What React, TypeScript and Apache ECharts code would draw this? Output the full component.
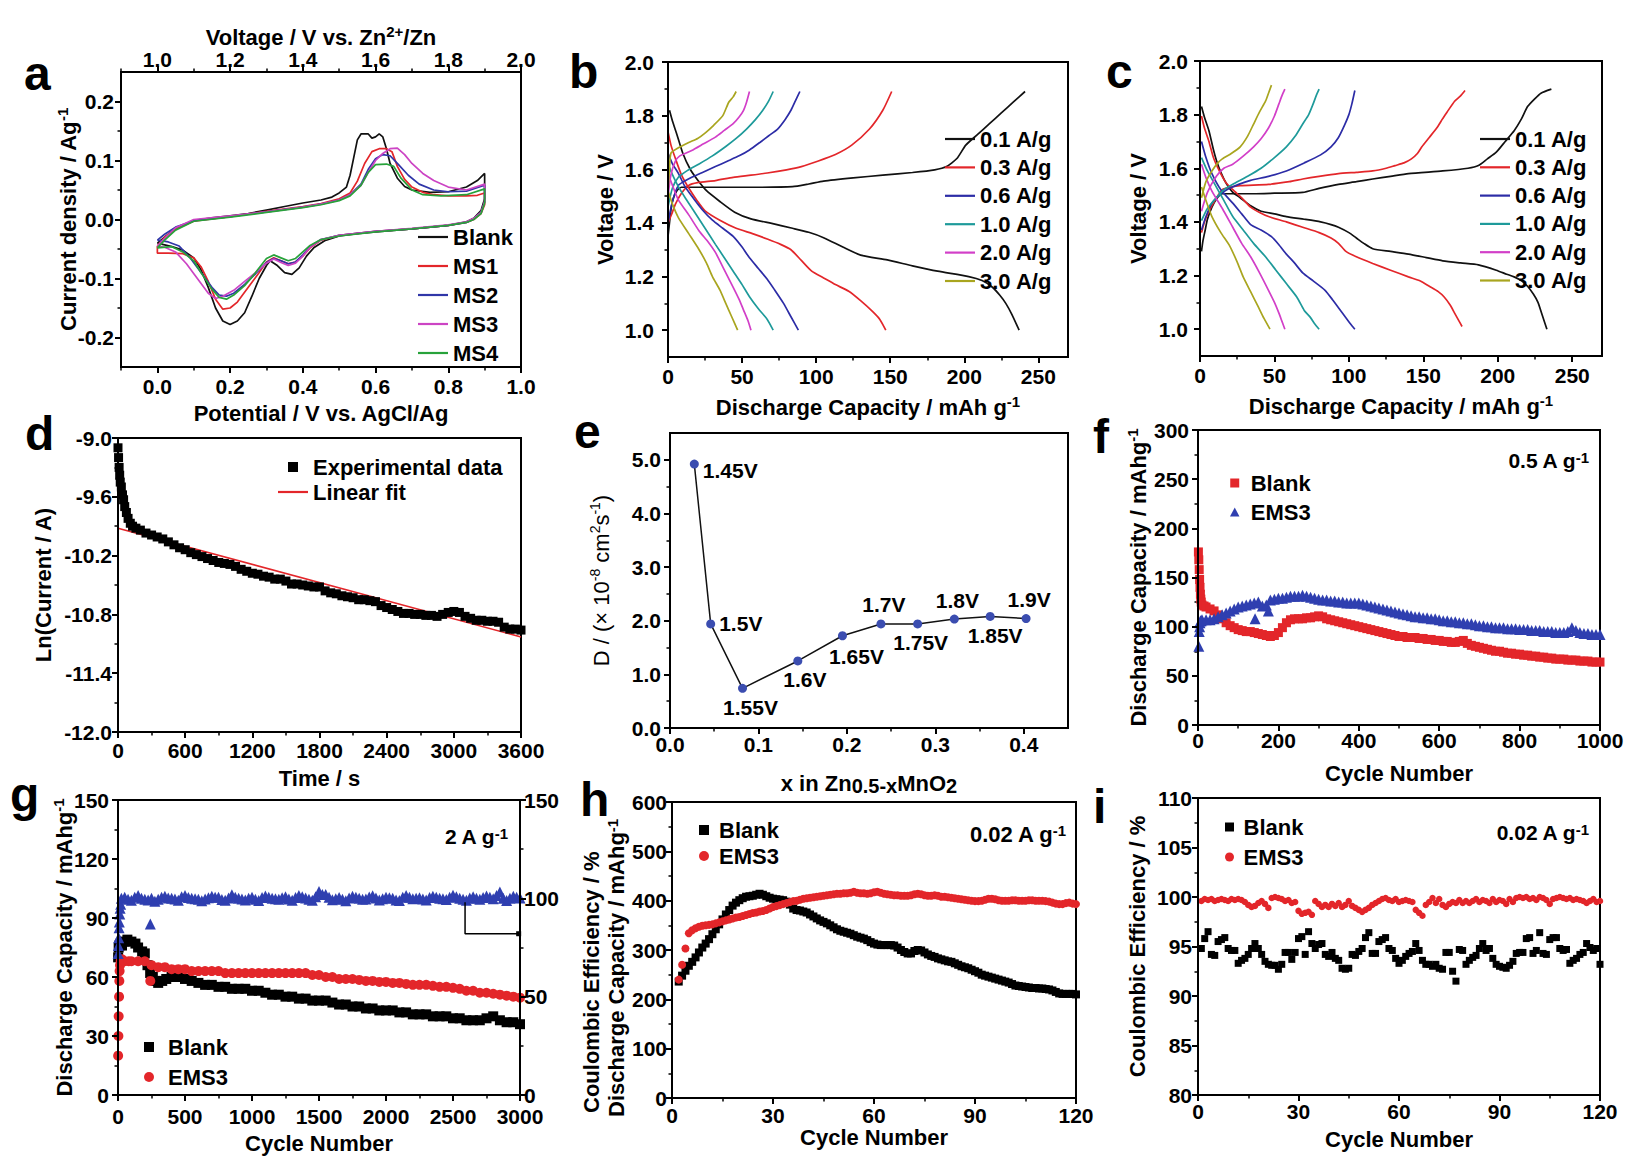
import React, { useEffect, useRef } from "react";
import * as echarts from "echarts";

const FONT = "'Liberation Sans', Arial, Helvetica, sans-serif";

// ---------- panel a : CV curves ----------
const aTicksX = [0, 0.2, 0.4, 0.6, 0.8, 1.0];
const aMinorX = [-0.1, 0.1, 0.3, 0.5, 0.7, 0.9];
const aTicksY = [-0.2, -0.1, 0, 0.1, 0.2];
const aMinorY = [-0.15, -0.05, 0.05, 0.15];
const aNames = ["Blank", "MS1", "MS2", "MS3", "MS4"];
const aColors = ["#111111", "#e3262a", "#3036a8", "#cc44c4", "#27a23a"];
const cvBlank = [[0.0,-0.040],[0.02,-0.030],[0.05,-0.015],[0.10,-0.002],[0.15,0.003],[0.20,0.006],[0.25,0.010],[0.30,0.016],[0.35,0.022],[0.40,0.028],[0.45,0.033],[0.48,0.038],[0.50,0.045],[0.52,0.055],[0.53,0.075],[0.54,0.105],[0.55,0.135],[0.56,0.145],[0.58,0.145],[0.59,0.138],[0.60,0.140],[0.61,0.145],[0.62,0.140],[0.63,0.120],[0.64,0.095],[0.66,0.070],[0.68,0.056],[0.70,0.050],[0.75,0.046],[0.80,0.047],[0.85,0.055],[0.88,0.066],[0.90,0.078],[0.90,0.035],[0.89,0.015],[0.87,0.002],[0.85,-0.004],[0.80,-0.010],[0.70,-0.016],[0.60,-0.021],[0.55,-0.024],[0.50,-0.028],[0.46,-0.036],[0.43,-0.048],[0.41,-0.062],[0.39,-0.082],[0.37,-0.093],[0.35,-0.090],[0.33,-0.078],[0.31,-0.070],[0.30,-0.078],[0.28,-0.100],[0.26,-0.130],[0.24,-0.158],[0.22,-0.172],[0.20,-0.178],[0.18,-0.172],[0.16,-0.150],[0.14,-0.115],[0.12,-0.085],[0.10,-0.065],[0.07,-0.052],[0.04,-0.046],[0.0,-0.040]];
const cvMS1 = [[0.0,-0.045],[0.02,-0.030],[0.05,-0.016],[0.10,-0.003],[0.20,0.005],[0.30,0.014],[0.40,0.022],[0.45,0.027],[0.50,0.035],[0.53,0.045],[0.55,0.065],[0.57,0.095],[0.59,0.115],[0.61,0.120],[0.63,0.120],[0.645,0.115],[0.66,0.090],[0.68,0.068],[0.70,0.055],[0.73,0.046],[0.76,0.042],[0.80,0.040],[0.85,0.040],[0.88,0.041],[0.90,0.045],[0.90,0.025],[0.89,0.010],[0.87,0.000],[0.85,-0.005],[0.80,-0.010],[0.70,-0.016],[0.60,-0.020],[0.50,-0.027],[0.45,-0.035],[0.42,-0.048],[0.40,-0.062],[0.38,-0.072],[0.36,-0.075],[0.34,-0.070],[0.32,-0.065],[0.30,-0.072],[0.28,-0.090],[0.25,-0.115],[0.22,-0.140],[0.20,-0.150],[0.18,-0.152],[0.16,-0.135],[0.14,-0.105],[0.12,-0.080],[0.10,-0.065],[0.07,-0.058],[0.03,-0.057],[0.0,-0.057],[0.0,-0.045]];
const cvMS2 = [[0.0,-0.035],[0.02,-0.025],[0.05,-0.013],[0.10,-0.002],[0.20,0.005],[0.30,0.013],[0.40,0.021],[0.45,0.026],[0.50,0.033],[0.53,0.042],[0.56,0.060],[0.58,0.085],[0.60,0.103],[0.62,0.110],[0.64,0.108],[0.66,0.095],[0.69,0.075],[0.72,0.060],[0.76,0.050],[0.80,0.047],[0.85,0.048],[0.90,0.058],[0.90,0.030],[0.89,0.012],[0.87,0.001],[0.85,-0.005],[0.80,-0.010],[0.70,-0.016],[0.60,-0.020],[0.50,-0.027],[0.45,-0.034],[0.42,-0.046],[0.40,-0.060],[0.38,-0.072],[0.36,-0.075],[0.34,-0.070],[0.32,-0.066],[0.30,-0.073],[0.27,-0.092],[0.24,-0.110],[0.21,-0.125],[0.19,-0.130],[0.17,-0.128],[0.15,-0.115],[0.12,-0.090],[0.09,-0.065],[0.06,-0.045],[0.03,-0.038],[0.0,-0.035]];
const cvMS3 = [[0.0,-0.045],[0.02,-0.032],[0.05,-0.014],[0.10,0.000],[0.20,0.006],[0.30,0.013],[0.40,0.021],[0.45,0.026],[0.50,0.033],[0.53,0.042],[0.56,0.058],[0.58,0.080],[0.60,0.100],[0.62,0.112],[0.64,0.120],[0.66,0.121],[0.68,0.110],[0.70,0.095],[0.73,0.078],[0.76,0.066],[0.80,0.055],[0.85,0.050],[0.90,0.060],[0.90,0.030],[0.89,0.012],[0.87,0.002],[0.85,-0.004],[0.80,-0.009],[0.70,-0.015],[0.60,-0.020],[0.50,-0.027],[0.45,-0.034],[0.42,-0.047],[0.40,-0.062],[0.38,-0.074],[0.36,-0.078],[0.34,-0.073],[0.32,-0.067],[0.30,-0.074],[0.27,-0.090],[0.24,-0.105],[0.21,-0.120],[0.18,-0.130],[0.16,-0.134],[0.14,-0.125],[0.11,-0.100],[0.08,-0.075],[0.05,-0.055],[0.02,-0.047],[0.0,-0.045]];
const cvMS4 = [[0.0,-0.048],[0.02,-0.035],[0.05,-0.018],[0.10,-0.003],[0.20,0.004],[0.30,0.012],[0.40,0.020],[0.45,0.025],[0.50,0.032],[0.53,0.040],[0.56,0.058],[0.58,0.080],[0.60,0.093],[0.63,0.094],[0.65,0.090],[0.67,0.070],[0.70,0.050],[0.73,0.042],[0.78,0.040],[0.85,0.042],[0.90,0.052],[0.90,0.028],[0.89,0.010],[0.87,0.000],[0.85,-0.005],[0.80,-0.010],[0.70,-0.016],[0.60,-0.021],[0.50,-0.028],[0.45,-0.034],[0.42,-0.044],[0.40,-0.055],[0.38,-0.066],[0.36,-0.070],[0.34,-0.065],[0.32,-0.060],[0.30,-0.066],[0.27,-0.090],[0.24,-0.112],[0.21,-0.128],[0.19,-0.135],[0.17,-0.132],[0.15,-0.118],[0.12,-0.090],[0.10,-0.070],[0.07,-0.055],[0.04,-0.046],[0.0,-0.048]];

// ---------- panels b, c : charge / discharge ----------
const rateNames = ["0.1 A/g", "0.3 A/g", "0.6 A/g", "1.0 A/g", "2.0 A/g", "3.0 A/g"];
const rateColors = ["#111111", "#e3262a", "#2c2ca6", "#1e9a9a", "#d23fc8", "#a9a51f"];
const bcTicksX = [0, 50, 100, 150, 200, 250];
const bcMinorX = [25, 75, 125, 175, 225];
const bcTicksY = [1.0, 1.2, 1.4, 1.6, 1.8, 2.0];
const bcMinorY = [1.1, 1.3, 1.5, 1.7, 1.9];

const b01Charge = [[0,1.35],[1,1.40],[2,1.45],[3.5,1.49],[6,1.52],[9,1.533],[20,1.533],[40,1.533],[60,1.533],[84,1.535],[95,1.545],[105,1.556],[125,1.568],[145,1.578],[165,1.588],[180,1.598],[188,1.61],[195,1.64],[201,1.69],[209,1.73],[217,1.77],[225,1.81],[233,1.85],[241,1.89]];
const b01Discharge = [[1,1.82],[3,1.78],[6,1.73],[10,1.66],[15,1.60],[20,1.56],[26,1.52],[35,1.48],[45,1.44],[56,1.415],[70,1.398],[84,1.38],[95,1.365],[105,1.345],[118,1.31],[130,1.28],[148,1.262],[165,1.24],[182,1.22],[203,1.20],[212,1.185],[219,1.16],[224,1.13],[228,1.10],[232,1.06],[237,1.0]];
const b03Charge = [[0,1.40],[3,1.44],[5,1.47],[9,1.51],[14,1.54],[20,1.55],[32,1.558],[44,1.57],[56,1.578],[67,1.586],[80,1.598],[90,1.61],[101,1.63],[113,1.655],[124,1.69],[136,1.75],[145,1.82],[151,1.89]];
const b03Discharge = [[0,1.74],[2,1.69],[5,1.64],[9,1.58],[14,1.53],[20,1.48],[25,1.445],[35,1.41],[46,1.38],[57,1.36],[67,1.34],[76,1.32],[83,1.30],[90,1.26],[97,1.22],[105,1.195],[113,1.17],[122,1.145],[130,1.11],[138,1.07],[143,1.04],[147,1.0]];
const b06Charge = [[0,1.40],[3,1.48],[7,1.54],[11,1.555],[16,1.57],[24,1.59],[32,1.61],[40,1.63],[48,1.65],[55,1.672],[62,1.70],[68,1.725],[74,1.75],[79,1.785],[83,1.82],[86,1.855],[89,1.89]];
const b06Discharge = [[0,1.66],[3,1.62],[7,1.585],[11,1.54],[16,1.50],[23,1.45],[30,1.41],[37,1.38],[44,1.35],[50,1.31],[55,1.27],[61,1.23],[67,1.19],[72,1.15],[78,1.10],[83,1.05],[88,1.0]];
const b10Charge = [[0,1.46],[3,1.53],[7,1.57],[13,1.595],[21,1.62],[30,1.65],[39,1.685],[46,1.715],[53,1.75],[59,1.785],[64,1.82],[68,1.855],[71,1.89]];
const b10Discharge = [[0,1.62],[3,1.58],[7,1.535],[12,1.49],[18,1.44],[25,1.38],[32,1.32],[38,1.27],[44,1.22],[50,1.17],[55,1.125],[61,1.08],[67,1.04],[71,1.0]];
const b20Charge = [[0,1.50],[2,1.58],[5,1.63],[8,1.65],[16,1.67],[24,1.695],[32,1.72],[38,1.745],[44,1.77],[48,1.795],[51,1.82],[53,1.85],[55,1.89]];
const b20Discharge = [[0,1.585],[3,1.54],[7,1.486],[14,1.43],[21,1.37],[27,1.33],[32,1.29],[38,1.225],[44,1.16],[48,1.115],[51,1.075],[54,1.035],[56,1.0]];
const b30Charge = [[0,1.52],[1,1.60],[2,1.66],[7,1.68],[14,1.70],[20,1.715],[25,1.735],[31,1.765],[37,1.80],[41,1.85],[44,1.87],[46,1.89]];
const b30Discharge = [[0,1.52],[3,1.47],[7,1.42],[14,1.36],[21,1.30],[26,1.25],[30,1.20],[35,1.15],[39,1.10],[43,1.05],[47,1.0]];

const c01Charge = [[1,1.29],[2,1.33],[3.5,1.37],[5,1.41],[8,1.455],[11,1.485],[15,1.505],[25,1.505],[36,1.505],[50,1.507],[69,1.51],[80,1.525],[93,1.54],[105,1.55],[116,1.56],[128,1.57],[140,1.58],[163,1.59],[180,1.60],[187,1.61],[193,1.635],[199,1.66],[205,1.70],[211,1.74],[216,1.785],[220,1.83],[225,1.86],[229,1.88],[236,1.895]];
const c01Discharge = [[1,1.83],[3,1.79],[6,1.74],[9,1.67],[11,1.63],[14,1.585],[18,1.54],[22,1.51],[27,1.49],[34,1.46],[41,1.44],[50,1.43],[58,1.42],[70,1.41],[81,1.40],[88,1.39],[93,1.38],[100,1.36],[105,1.34],[110,1.32],[116,1.30],[128,1.29],[140,1.28],[152,1.267],[163,1.255],[175,1.247],[187,1.24],[199,1.22],[206,1.205],[211,1.195],[216,1.18],[220,1.16],[224,1.13],[227,1.10],[230,1.05],[233,1.0]];
const c03Charge = [[1,1.36],[3,1.40],[6,1.44],[10,1.48],[15,1.52],[21,1.53],[27,1.535],[46,1.54],[60,1.55],[69,1.56],[80,1.57],[93,1.58],[105,1.585],[116,1.59],[125,1.60],[131,1.61],[137,1.62],[142,1.635],[146,1.655],[149,1.68],[154,1.715],[159,1.75],[163,1.785],[166,1.81],[171,1.85],[175,1.87],[178,1.89]];
const c03Discharge = [[1,1.795],[3,1.75],[6,1.70],[9,1.64],[13,1.59],[17,1.55],[22,1.52],[28,1.49],[34,1.455],[40,1.435],[46,1.42],[58,1.40],[69,1.38],[80,1.36],[88,1.34],[93,1.32],[98,1.29],[105,1.27],[116,1.245],[128,1.22],[140,1.195],[148,1.18],[154,1.16],[160,1.14],[164,1.12],[168,1.09],[171,1.06],[174,1.03],[176,1.01]];
const c06Charge = [[1,1.37],[4,1.42],[8,1.47],[13,1.50],[18,1.52],[26,1.54],[34,1.555],[46,1.57],[58,1.59],[70,1.62],[81,1.65],[88,1.68],[93,1.715],[97,1.76],[100,1.80],[102,1.84],[104,1.89]];
const c06Discharge = [[1,1.70],[4,1.64],[8,1.58],[14,1.52],[22,1.47],[28,1.43],[34,1.39],[41,1.37],[48,1.345],[53,1.315],[58,1.28],[63,1.25],[69,1.21],[76,1.18],[84,1.145],[89,1.11],[93,1.08],[97,1.05],[101,1.02],[104,1.0]];
const c10Charge = [[1,1.405],[5,1.45],[11,1.49],[16,1.52],[22,1.54],[32,1.57],[41,1.60],[50,1.64],[58,1.68],[64,1.72],[69,1.765],[73,1.80],[76,1.84],[78,1.87],[80,1.895]];
const c10Discharge = [[1,1.64],[5,1.59],[11,1.53],[16,1.48],[22,1.42],[29,1.37],[36,1.32],[44,1.27],[51,1.22],[58,1.17],[65,1.12],[70,1.07],[74,1.045],[77,1.02],[80,1.0]];
const c20Charge = [[1,1.44],[5,1.51],[11,1.57],[16,1.60],[22,1.615],[29,1.645],[36,1.68],[41,1.71],[46,1.75],[50,1.795],[53,1.84],[55,1.87],[57,1.895]];
const c20Discharge = [[1,1.615],[4,1.565],[8,1.515],[15,1.45],[22,1.38],[28,1.32],[34,1.27],[40,1.21],[46,1.145],[50,1.10],[53,1.06],[55,1.03],[57,1.0]];
const c30Charge = [[1,1.49],[4,1.55],[8,1.59],[12,1.62],[15,1.635],[21,1.655],[27,1.68],[32,1.72],[36,1.765],[40,1.81],[44,1.85],[46,1.88],[48,1.91]];
const c30Discharge = [[1,1.53],[4,1.48],[8,1.42],[14,1.36],[20,1.31],[25,1.25],[29,1.195],[34,1.14],[39,1.085],[43,1.04],[47,1.0]];

// ---------- panel d ----------
const dTicksX = [0, 600, 1200, 1800, 2400, 3000, 3600];
const dMinorX = [300, 900, 1500, 2100, 2700, 3300];
const dTicksY = [-12.0, -11.4, -10.8, -10.2, -9.6, -9.0];
const dMinorY = [-11.7, -11.1, -10.5, -9.9, -9.3];
const dExp = [[0,-9.1],[5,-9.2],[10,-9.3],[15,-9.38],[20,-9.45],[30,-9.5],[40,-9.58],[50,-9.63],[60,-9.7],[75,-9.76],[90,-9.82],[110,-9.87],[130,-9.9],[160,-9.92],[200,-9.94],[250,-9.97],[300,-9.99],[350,-10.01],[400,-10.03],[450,-10.06],[500,-10.09],[550,-10.12],[600,-10.14],[650,-10.17],[700,-10.19],[750,-10.21],[800,-10.23],[850,-10.25],[900,-10.27],[950,-10.28],[1000,-10.29],[1050,-10.31],[1100,-10.34],[1150,-10.36],[1200,-10.38],[1250,-10.39],[1300,-10.41],[1350,-10.42],[1400,-10.44],[1450,-10.44],[1500,-10.46],[1550,-10.49],[1600,-10.49],[1650,-10.50],[1700,-10.51],[1750,-10.52],[1800,-10.52],[1850,-10.56],[1900,-10.58],[1950,-10.59],[2000,-10.61],[2050,-10.62],[2100,-10.63],[2150,-10.65],[2200,-10.65],[2250,-10.66],[2300,-10.67],[2350,-10.71],[2400,-10.73],[2450,-10.75],[2500,-10.77],[2550,-10.79],[2600,-10.79],[2650,-10.80],[2700,-10.80],[2750,-10.81],[2800,-10.81],[2850,-10.82],[2900,-10.80],[2950,-10.78],[3000,-10.77],[3050,-10.78],[3100,-10.82],[3150,-10.84],[3200,-10.86],[3250,-10.86],[3300,-10.87],[3350,-10.87],[3400,-10.88],[3450,-10.93],[3500,-10.95],[3550,-10.95],[3600,-10.96]];
const dFit = [[0,-9.92],[3600,-11.03]];

// ---------- panel e ----------
const eTicksX = [0, 0.1, 0.2, 0.3, 0.4];
const eMinorX = [0.05, 0.15, 0.25, 0.35];
const eTicksY = [0, 1, 2, 3, 4, 5];
const eMinorY = [0.5, 1.5, 2.5, 3.5, 4.5];
const eX = [0.0275, 0.046, 0.082, 0.1445, 0.195, 0.2385, 0.28, 0.3215, 0.362, 0.4026];
const eD = [4.92, 1.94, 0.74, 1.25, 1.72, 1.94, 1.94, 2.03, 2.08, 2.04];
const eLabels = ["1.45V", "1.5V", "1.55V", "1.6V", "1.65V", "1.7V", "1.75V", "1.8V", "1.85V", "1.9V"];

// ---------- panel f ----------
const fTicksX = [0, 200, 400, 600, 800, 1000];
const fMinorX = [100, 300, 500, 700, 900];
const fTicksY = [0, 50, 100, 150, 200, 250, 300];
const fMinorY = [25, 75, 125, 175, 225, 275];
const fBlank = [[1,176],[2,168],[3,158],[4,148],[5,140],[6,133],[7,128],[8,125],[10,122],[15,121],[20,120],[30,118],[40,116],[50,112],[60,108],[70,104],[80,101],[90,99],[100,97],[110,96],[120,95],[130,95],[140,94],[150,93],[160,92],[170,91],[180,90],[190,91],[200,94],[210,99],[220,104],[230,107],[240,108],[250,108],[260,108],[270,109],[280,109],[290,110],[300,111],[310,110],[320,108],[330,107],[340,106],[350,105],[360,104],[370,103],[380,102],[390,101],[400,100],[410,99],[420,98],[430,97],[440,96],[450,95],[460,94],[470,93],[480,92],[490,91],[500,90],[510,90],[520,89],[530,89],[540,89],[550,88],[560,88],[570,87],[580,87],[590,86],[600,86],[610,85],[620,85],[630,84],[640,84],[650,85],[660,86],[670,83],[680,81],[690,80],[700,79],[710,78],[720,77],[730,76],[740,75],[750,75],[760,74],[770,73],[780,73],[790,72],[800,72],[810,71],[820,71],[830,70],[840,70],[850,69],[860,69],[870,68],[880,68],[890,67],[900,67],[910,67],[920,66],[930,66],[940,66],[950,65],[960,65],[970,65],[980,64],[990,64],[1000,64]];
const fEMS3 = [[2,80],[3,95],[4,100],[5,104],[6,106],[8,106],[10,107],[20,107],[30,107],[40,108],[50,110],[60,112],[70,114],[80,116],[90,118],[100,120],[110,121],[120,122],[130,123],[140,124],[142,108],[150,125],[160,121],[170,122],[175,116],[180,127],[190,128],[200,129],[210,129],[220,130],[230,131],[240,131],[250,131],[260,132],[270,131],[280,130],[290,129],[300,128],[310,127],[320,127],[330,126],[340,126],[350,125],[360,125],[370,124],[380,124],[390,124],[400,124],[410,123],[420,122],[430,121],[440,120],[450,119],[460,118],[470,117],[480,116],[490,115],[500,114],[510,113],[520,112],[530,111],[540,110],[550,110],[560,109],[570,109],[580,108],[590,108],[600,107],[610,106],[620,106],[630,105],[640,105],[650,104],[660,104],[670,103],[680,103],[690,102],[700,101],[710,101],[720,100],[730,100],[740,99],[750,99],[760,99],[770,98],[780,98],[790,98],[800,97],[810,97],[820,97],[830,96],[840,96],[850,96],[860,95],[870,95],[880,95],[890,94],[900,94],[910,94],[920,95],[930,99],[940,96],[950,94],[960,93],[970,93],[980,92],[990,92],[1000,92]];

// ---------- panel g ----------
const gTicksX = [0, 500, 1000, 1500, 2000, 2500, 3000];
const gMinorX = [250, 750, 1250, 1750, 2250, 2750];
const gTicksY = [0, 30, 60, 90, 120, 150];
const gMinorY = [15, 45, 75, 105, 135];
const gTicksY2 = [0, 50, 100, 150];
const gMinorY2 = [25, 75, 125];
const gBlank = [[1,70],[5,75],[10,76],[20,77],[30,76],[50,78],[70,79],[100,78],[130,77],[150,75],[180,73],[200,72],[220,66],[240,62],[260,60],[280,58],[300,57],[330,58],[360,59],[400,60],[450,60],[500,59],[550,58],[600,57],[650,56],[700,56],[750,55],[800,55],[850,54],[900,54],[950,54],[1000,53],[1050,53],[1100,52],[1150,51],[1200,51],[1250,50],[1300,50],[1350,49],[1400,49],[1450,48],[1500,48],[1550,48],[1600,47],[1650,46],[1700,46],[1750,45],[1800,45],[1850,44],[1900,44],[1950,43],[2000,43],[2050,43],[2100,42],[2150,42],[2200,41],[2250,41],[2300,41],[2350,40],[2400,40],[2450,40],[2500,39],[2550,39],[2600,38],[2650,38],[2700,38],[2750,39],[2800,40],[2850,38],[2900,37],[2950,37],[3000,36]];
const gEMS3 = [[1,20],[3,30],[5,40],[8,50],[10,58],[12,63],[15,66],[20,68],[30,69],[50,68],[80,68],[100,68],[150,68],[200,68],[241,58],[250,66],[300,65],[350,65],[400,64],[450,64],[500,64],[550,63],[600,63],[650,63],[700,63],[750,63],[800,62],[850,62],[900,62],[950,62],[1000,62],[1050,62],[1100,62],[1150,62],[1200,62],[1250,62],[1300,62],[1350,62],[1400,62],[1450,61],[1500,61],[1550,60],[1600,60],[1650,59],[1700,59],[1750,59],[1800,58.5],[1850,58],[1900,58],[1950,57.5],[2000,57.5],[2050,57],[2100,57],[2150,56.5],[2200,56],[2250,56],[2300,56],[2350,55.5],[2400,55],[2450,55],[2500,54.5],[2550,54],[2600,53],[2650,53],[2700,52],[2750,52],[2800,51.5],[2850,51],[2900,50.5],[2950,50],[3000,49.5]];
const gCEstart = [[1,72],[3,76],[5,80],[8,85],[10,88],[13,92],[16,95],[20,97],[241,87]];
// Coulombic efficiency every 25 cycles (25 ... 3000)
const gCE = [100,100.5,99.5,99,100.5,101.5,100,99.5,99.2,100,98.5,99.5,100.5,101,100.2,100,99.6,99,100.8,101.5,100.4,100,99.8,99.5,98.8,99.6,100.3,101,100.6,100.5,99.4,99,100.2,101.8,100.5,100,99.6,99.2,100,100.6,99.5,98.9,100.4,101.2,100.6,100,99.8,99.5,100.3,100.8,99.6,99,100.4,101.5,100.8,100.2,99.5,99,100.8,103.5,102,101.9,100.6,99.3,99.8,100.4,99.5,98.8,100.2,101,100.6,100,99.5,99.6,100.7,101.3,100.2,99.1,99.8,100.5,100.3,100,99.2,98.9,100.5,101.4,100.6,99.8,100,100.3,99.6,99.2,100.4,101,100.5,100.1,99.8,99.4,100.5,101.6,100.8,100,99.5,99,100.2,100.8,100.1,99.5,100.4,101.2,100.6,99.8,101.5,103.2,100,98.9,100.1,101,100.6,100.2];
const gArrow = [[2590, 98], [2590, 82], [2990, 82]];

// ---------- panel h ----------
const hTicksX = [0, 30, 60, 90, 120];
const hMinorX = [15, 45, 75, 105];
const hTicksY = [0, 100, 200, 300, 400, 500, 600];
const hMinorY = [50, 150, 250, 350, 450, 550];
const hBlank = [236,248,258,268,276,285,295,305,313,322,332,342,352,362,372,381,390,396,401,405,408,409,410,412,414,412,409,406,404,403,402,401,398,392,384,381,380,378,376,372,368,364,360,357,354,350,346,342,339,337,335,333,330,327,325,323,320,316,313,311,310,310,310,310,309,305,300,296,293,293,298,300,299,295,291,288,286,283,281,279,277,276,273,270,267,265,263,260,257,254,250,248,246,244,242,240,238,236,234,231,228,227,226,225,224,223,223,222,222,221,220,218,215,212,211,211,211,211,210];
const hEMS3 = [240,270,303,334,340,344,347,349,350,351,352,354,356,358,360,362,364,366,367,369,371,373,375,376,378,379,381,384,387,389,391,393,395,397,399,400,402,404,405,406,407,408,409,410,411,412,413,414,414,415,415,416,418,416,415,415,414,415,417,418,416,414,413,412,411,411,410,410,410,411,413,414,413,411,410,410,411,410,408,408,407,406,405,404,403,402,401,400,399,399,400,402,404,404,403,401,400,400,400,401,401,400,400,400,401,401,400,400,400,399,398,396,394,393,393,395,396,394,393];

// ---------- panel i ----------
const iTicksX = [0, 30, 60, 90, 120];
const iMinorX = [15, 45, 75, 105];
const iTicksY = [80, 85, 90, 95, 100, 105, 110];
const iMinorY = [82.5, 87.5, 92.5, 97.5, 102.5, 107.5];
const iBlank = [94.8,95.8,96.5,94.2,94.1,95.5,95.7,95.9,94.8,94.6,94.6,93.3,93.6,93.8,94.2,94.8,95.3,94.8,94.2,93.5,93.2,93.1,93.1,92.7,93.2,94.4,94.4,93.7,94.4,95.8,96.0,94.2,96.5,95.3,94.8,95.2,95.3,94.2,94.0,94.4,93.8,93.6,92.8,92.7,92.8,94.2,94.1,94.5,94.8,95.9,96.4,94.3,94.3,95.5,95.7,95.9,94.8,94.6,93.8,93.3,93.6,94.0,94.3,94.5,95.3,94.6,93.6,93.2,93.2,93.0,93.2,92.8,92.7,94.4,94.4,92.5,91.5,94.7,94.6,93.2,93.6,93.9,94.1,94.8,95.3,94.6,94.8,93.8,93.2,93.0,92.9,92.8,93.1,93.5,94.3,94.4,94.4,95.8,95.9,94.3,94.6,96.4,94.3,94.2,95.7,95.9,95.9,94.8,94.6,94.7,93.3,93.6,93.8,94.2,94.4,95.3,94.9,94.6,94.8,93.2];
const iEMS3 = [99.6,99.8,99.7,99.8,99.6,99.7,99.8,99.7,99.6,99.8,99.7,99.8,99.7,99.5,99.2,99.0,99.1,99.4,99.6,99.3,98.9,99.9,100.0,99.9,99.8,99.6,99.7,99.4,99.5,98.6,98.3,98.4,98.5,98.2,99.6,99.3,99.0,99.2,99.0,99.3,99.1,99.4,99.0,99.2,99.6,99.1,98.9,98.7,98.5,98.7,98.9,99.2,99.4,99.6,99.8,99.9,99.7,99.6,99.8,99.5,99.6,99.7,99.6,99.5,98.7,98.4,98.1,99.2,99.5,99.9,99.4,99.8,99.2,99.0,99.3,99.5,99.4,99.7,99.4,99.6,99.4,99.6,99.8,99.5,99.7,99.6,99.4,99.8,99.5,99.7,99.6,99.3,99.8,99.5,99.9,100.0,99.9,100.0,99.8,99.9,99.7,100.0,99.9,99.7,99.3,99.8,99.9,100.0,99.9,99.8,99.9,99.7,99.8,99.7,99.6,99.4,99.6,99.8,99.5,99.6];

// ---------- layout & styles ----------
const GRIDS = [
  { l: 121, t: 72, w: 400, h: 295 },   // a
  { l: 668, t: 62, w: 400, h: 295 },   // b
  { l: 1200, t: 61, w: 402, h: 295 },  // c
  { l: 118, t: 438, w: 403, h: 294 },  // d
  { l: 670, t: 433, w: 398, h: 295 },  // e
  { l: 1198, t: 430, w: 402, h: 295 }, // f
  { l: 118, t: 800, w: 402, h: 295 },  // g
  { l: 672, t: 802, w: 404, h: 296 },  // h
  { l: 1198, t: 798, w: 402, h: 297 }, // i
];
const BLACK = "#000000";
const RED = "#e3262a";
const BLUE = "#2f3fb0";
const SQ = "path://M0,0h10v10h-10z";
const TRI = "path://M5,0L10,9.5H0z";
const CIRC = "path://M5,0A5,5,0,1,1,5,10A5,5,0,1,1,5,0z";
const LINE = "path://M0,0h30v2.2h-30z";

const RICH = {
  sup: { fontSize: 15, fontWeight: "bold", fontFamily: FONT, color: BLACK, verticalAlign: "top", lineHeight: 12 },
  sub: { fontSize: 20, fontWeight: "bold", fontFamily: FONT, color: BLACK, verticalAlign: "bottom", lineHeight: 10 },
  supn: { fontSize: 14, fontWeight: "normal", fontFamily: FONT, color: BLACK, verticalAlign: "top", lineHeight: 12 },
};

function mkAxis(list: any[], grid: number, o: any) {
  const idx = list.length;
  list.push({
    type: "value", gridIndex: grid, min: o.min, max: o.max, position: o.pos,
    axisLine: { show: true, onZero: false, lineStyle: { color: BLACK, width: 2 } },
    axisTick: { show: true, inside: false, length: 6, lineStyle: { color: BLACK, width: 2 }, customValues: o.major },
    minorTick: { show: false },
    axisLabel: {
      show: o.label !== false, customValues: o.major, formatter: o.fmt, margin: o.margin,
      color: BLACK, fontSize: 21, fontWeight: "bold", fontFamily: FONT,
    },
    splitLine: { show: false },
    name: o.name || "", nameLocation: "middle", nameGap: o.gap || 30, nameRotate: o.rot || 0,
    nameMoveOverlap: false,
    nameTextStyle: { color: BLACK, fontSize: 22, fontWeight: o.nw || "bold", fontFamily: FONT, lineHeight: 26, rich: RICH },
    z: 5,
  });
  list.push({
    type: "value", gridIndex: grid, min: o.min, max: o.max, position: o.pos,
    axisLine: { show: false, onZero: false }, axisLabel: { show: false }, splitLine: { show: false },
    axisTick: { show: true, inside: false, length: 3.5, lineStyle: { color: BLACK, width: 1.5 }, customValues: o.minor },
    nameMoveOverlap: false,
  });
  return idx;
}

function mkLegend(left: number, top: number, gap: number, iw: number, ih: number, items: any[]) {
  return {
    show: true, orient: "vertical", left, top, itemGap: gap, itemWidth: iw, itemHeight: ih,
    selectedMode: false, padding: 0,
    textStyle: { fontSize: 22, fontWeight: "bold", fontFamily: FONT, color: BLACK, lineHeight: 22 },
    formatter: (n: string) => n.split("#")[1],
    data: items.map((it) => ({ name: it[0], icon: it[1], itemStyle: { color: it[2], borderWidth: 0 } })),
  };
}

const f1 = (v: number) => v.toFixed(1);
const f0 = (v: number) => String(Math.round(v));

function buildOption() {
  const xAxis: any[] = [];
  const yAxis: any[] = [];
  const grid = GRIDS.map((g) => ({
    left: g.l, top: g.t, width: g.w, height: g.h, show: true, borderColor: BLACK, borderWidth: 2,
    backgroundColor: "transparent", containLabel: false, outerBoundsMode: "none",
  }));

  // a
  const ax = mkAxis(xAxis, 0, { min: -0.1, max: 1.0, major: aTicksX, minor: aMinorX, fmt: f1, margin: 9, pos: "bottom", name: "Potential / V vs. AgCl/Ag", gap: 33 });
  mkAxis(xAxis, 0, { min: -0.1, max: 1.0, major: aTicksX, minor: aMinorX, fmt: (v: number) => (v + 1).toFixed(1), margin: 2, pos: "top", name: "Voltage / V vs. Zn{sup|2+}/Zn", gap: 22 });
  const ay = mkAxis(yAxis, 0, { min: -0.25, max: 0.25, major: aTicksY, minor: aMinorY, fmt: f1, margin: 7, pos: "left", name: "Current density / Ag{sup|-1}", gap: 40, rot: 90 });
  // b
  const bx = mkAxis(xAxis, 1, { min: 0, max: 270, major: bcTicksX, minor: bcMinorX, fmt: f0, margin: 9, pos: "bottom", name: "Discharge Capacity / mAh g{sup|-1}", gap: 37 });
  const by = mkAxis(yAxis, 1, { min: 0.9, max: 2.0, major: bcTicksY, minor: bcMinorY, fmt: f1, margin: 14, pos: "left", name: "Voltage / V", gap: 50, rot: 90 });
  // c
  const cx = mkAxis(xAxis, 2, { min: 0, max: 270, major: bcTicksX, minor: bcMinorX, fmt: f0, margin: 9, pos: "bottom", name: "Discharge Capacity / mAh g{sup|-1}", gap: 37 });
  const cy = mkAxis(yAxis, 2, { min: 0.9, max: 2.0, major: bcTicksY, minor: bcMinorY, fmt: f1, margin: 12, pos: "left", name: "Voltage / V", gap: 49, rot: 90 });
  // d
  const dx = mkAxis(xAxis, 3, { min: 0, max: 3600, major: dTicksX, minor: dMinorX, fmt: f0, margin: 8, pos: "bottom", name: "Time / s", gap: 33 });
  const dy = mkAxis(yAxis, 3, { min: -12, max: -9, major: dTicksY, minor: dMinorY, fmt: f1, margin: 6, pos: "left", name: "Ln(Current / A)", gap: 62, rot: 90 });
  // e
  const ex = mkAxis(xAxis, 4, { min: 0, max: 0.45, major: eTicksX, minor: eMinorX, fmt: f1, margin: 6, pos: "bottom", name: "x in Zn{sub|0.5-x}MnO{sub|2}", gap: 42 });
  const ey = mkAxis(yAxis, 4, { min: 0, max: 5.5, major: eTicksY, minor: eMinorY, fmt: f1, margin: 9, pos: "left", name: "D / (× 10{supn|-8} cm{supn|2}s{supn|-1})", gap: 56, rot: 90, nw: "normal" });
  // f
  const fx = mkAxis(xAxis, 5, { min: 0, max: 1000, major: fTicksX, minor: fMinorX, fmt: f0, margin: 5, pos: "bottom", name: "Cycle Number", gap: 35 });
  const fy = mkAxis(yAxis, 5, { min: 0, max: 300, major: fTicksY, minor: fMinorY, fmt: f0, margin: 9, pos: "left", name: "Discharge Capacity / mAhg{sup|-1}", gap: 47, rot: 90 });
  // g
  const gx = mkAxis(xAxis, 6, { min: 0, max: 3000, major: gTicksX, minor: gMinorX, fmt: f0, margin: 11, pos: "bottom", name: "Cycle Number", gap: 35 });
  const gy = mkAxis(yAxis, 6, { min: 0, max: 150, major: gTicksY, minor: gMinorY, fmt: f0, margin: 9, pos: "left", name: "Discharge Capacity / mAhg{sup|-1}", gap: 41, rot: 90 });
  const gy2 = mkAxis(yAxis, 6, { min: 0, max: 150, major: gTicksY2, minor: gMinorY2, fmt: f0, margin: 4, pos: "right" });
  // h
  const hx = mkAxis(xAxis, 7, { min: 0, max: 120, major: hTicksX, minor: hMinorX, fmt: f0, margin: 7, pos: "bottom", name: "Cycle Number", gap: 26 });
  const hy = mkAxis(yAxis, 7, { min: 0, max: 600, major: hTicksY, minor: hMinorY, fmt: f0, margin: 5, pos: "left" });
  // i
  const ix = mkAxis(xAxis, 8, { min: 0, max: 120, major: iTicksX, minor: iMinorX, fmt: f0, margin: 6, pos: "bottom", name: "Cycle Number", gap: 31 });
  const iy = mkAxis(yAxis, 8, { min: 80, max: 110, major: iTicksY, minor: iMinorY, fmt: f0, margin: 6, pos: "left", name: "Coulombic Efficiency / %", gap: 48, rot: 90 });

  const series: any[] = [];
  const line = (name: string, xi: number, yi: number, data: any, color: string, width = 1.6, smooth: any = false) => ({
    type: "line", name, xAxisIndex: xi, yAxisIndex: yi, data, showSymbol: false, symbol: "none",
    smooth, lineStyle: { color, width }, itemStyle: { color }, z: 3,
  });
  const scat = (name: string, xi: number, yi: number, data: any, color: string, symbol: string, size: number) => ({
    type: "scatter", name, xAxisIndex: xi, yAxisIndex: yi, data, symbol, symbolSize: size,
    itemStyle: { color, opacity: 1 }, z: 3,
  });

  [cvBlank, cvMS1, cvMS2, cvMS3, cvMS4].forEach((d, i) => series.push(line("a#" + aNames[i], ax, ay, d, aColors[i], 1.7)));

  const bSets = [[b01Charge, b01Discharge], [b03Charge, b03Discharge], [b06Charge, b06Discharge], [b10Charge, b10Discharge], [b20Charge, b20Discharge], [b30Charge, b30Discharge]];
  const cSets = [[c01Charge, c01Discharge], [c03Charge, c03Discharge], [c06Charge, c06Discharge], [c10Charge, c10Discharge], [c20Charge, c20Discharge], [c30Charge, c30Discharge]];
  bSets.forEach((pair, i) => pair.forEach((d) => series.push(line("b#" + rateNames[i], bx, by, d, rateColors[i], 1.7, 0.2))));
  cSets.forEach((pair, i) => pair.forEach((d) => series.push(line("c#" + rateNames[i], cx, cy, d, rateColors[i], 1.7, 0.2))));

  series.push(scat("d#Experimental data", dx, dy, dExp, BLACK, "rect", 9));
  series.push(line("d#Linear fit", dx, dy, dFit, RED, 1.6));

  const eLabelPos = ["right", "right", "bottom", "bottom", "bottom", "top", "bottom", "top", "bottom", "top"];
  const eLabelOff = [[0, 6], [0, 0], [8, 0], [7, 0], [14, 2], [3, 0], [3, 0], [3, 0], [5, 0], [3, 0]];
  series.push({
    type: "line", name: "e#D", xAxisIndex: ex, yAxisIndex: ey,
    data: eX.map((x, i) => ({
      value: [x, eD[i]],
      label: { show: true, formatter: eLabels[i], position: eLabelPos[i], offset: eLabelOff[i], distance: 4 },
    })),
    symbol: "circle", symbolSize: 9, showSymbol: true,
    lineStyle: { color: "#111111", width: 1.5 }, itemStyle: { color: "#3b4db0" },
    label: { color: BLACK, fontSize: 21, fontWeight: "bold", fontFamily: FONT },
    z: 3,
  });

  series.push(scat("f#Blank", fx, fy, fBlank, RED, "rect", 9));
  series.push(scat("f#EMS3", fx, fy, fEMS3, BLUE, "triangle", 11));

  series.push(scat("g#Blank", gx, gy, gBlank, BLACK, "rect", 10));
  series.push(scat("g#EMS3", gx, gy, gEMS3, RED, "circle", 10));
  series.push(scat("g#CE", gx, gy2, gCEstart.concat(gCE.map((v, i) => [25 * (i + 1), v])), BLUE, "triangle", 11));
  series.push({
    type: "line", name: "g#arrow", xAxisIndex: gx, yAxisIndex: gy2,
    data: gArrow.map((p, i) => (i === gArrow.length - 1 ? { value: p, symbol: "rect", symbolSize: 5 } : { value: p, symbol: "none" })),
    showSymbol: true, symbol: "none", lineStyle: { color: BLACK, width: 1.5 }, itemStyle: { color: BLACK }, z: 4,
  });

  series.push(scat("h#Blank", hx, hy, hBlank.map((v, i) => [i + 2, v]), BLACK, "rect", 8));
  series.push(scat("h#EMS3", hx, hy, hEMS3.map((v, i) => [i + 2, v]), RED, "circle", 8));

  series.push(scat("i#Blank", ix, iy, iBlank.map((v, i) => [i + 1, v]), BLACK, "rect", 7));
  series.push(scat("i#EMS3", ix, iy, iEMS3.map((v, i) => [i + 1, v]), RED, "circle", 6.5));

  const legend = [
    mkLegend(418, 226, 7, 30, 10, aNames.map((n, i) => ["a#" + n, LINE, aColors[i]])),
    mkLegend(945, 128, 6.4, 30, 10, rateNames.map((n, i) => ["b#" + n, LINE, rateColors[i]])),
    mkLegend(1480, 128, 6.3, 30, 10, rateNames.map((n, i) => ["c#" + n, LINE, rateColors[i]])),
    mkLegend(278, 456, 3, 30, 10, [["d#Experimental data", SQ, BLACK], ["d#Linear fit", LINE, RED]]),
    mkLegend(1230, 472, 7, 22, 9, [["f#Blank", SQ, RED], ["f#EMS3", TRI, BLUE]]),
    mkLegend(144, 1036, 8, 28, 10, [["g#Blank", SQ, BLACK], ["g#EMS3", CIRC, RED]]),
    mkLegend(699, 819, 4, 20, 10, [["h#Blank", SQ, BLACK], ["h#EMS3", CIRC, RED]]),
    mkLegend(1225, 816, 8, 18, 9, [["i#Blank", SQ, BLACK], ["i#EMS3", CIRC, RED]]),
  ];

  // panel letters: [text, left x, bottom y]
  const letters = [
    ["a", 24, 97], ["b", 569, 95], ["c", 1106, 95],
    ["d", 25, 457], ["e", 574, 455], ["f", 1093, 460],
    ["g", 10, 818], ["h", 580, 823], ["i", 1093, 830],
  ];
  const txt = (x: number, y: number, text: string, align = "right", size = 21) => ({
    type: "text", x, y, z: 20,
    style: { text, align, verticalAlign: "middle", fontSize: size, fontWeight: "bold", fontFamily: FONT, fill: BLACK, rich: RICH },
  });
  const graphic: any[] = [
    ...letters.map((L: any) => ({
      type: "text", x: L[1], y: L[2], z: 20,
      style: { text: L[0], fontSize: 48, fontWeight: "bold", fontFamily: FONT, fill: BLACK, align: "left", verticalAlign: "bottom" },
    })),
    txt(1589, 460, "0.5 A g{sup|-1}"),
    txt(508, 836, "2 A g{sup|-1}"),
    txt(1066, 834, "0.02 A g{sup|-1}", "right", 22),
    txt(1589, 832, "0.02 A g{sup|-1}"),
    {
      type: "text", x: 591, y: 1113, rotation: Math.PI / 2, z: 20,
      style: { text: "Coulombic Efficiency / %", align: "left", verticalAlign: "middle", fontSize: 22, fontWeight: "bold", fontFamily: FONT, fill: BLACK },
    },
    {
      type: "text", x: 616, y: 1117, rotation: Math.PI / 2, z: 20,
      style: { text: "Discharge Capacity / mAhg{sup|-1}", rich: RICH, align: "left", verticalAlign: "middle", fontSize: 22, fontWeight: "bold", fontFamily: FONT, fill: BLACK },
    },
  ];

  return { animation: false, backgroundColor: "#ffffff", grid, xAxis, yAxis, series, legend, graphic };
}

export default function App() {
  const ref = useRef<HTMLDivElement>(null);
  useEffect(() => {
    const chart = echarts.init(ref.current as HTMLDivElement, null, { renderer: "svg", width: 1650, height: 1170 });
    chart.setOption(buildOption() as any);
    return () => chart.dispose();
  }, []);
  return <div ref={ref} style={{ position: "absolute", left: 0, top: 0, width: 1650, height: 1170, background: "#fff" }} />;
}
